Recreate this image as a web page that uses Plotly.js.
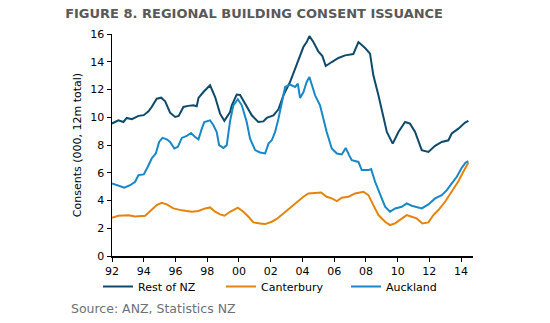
<!DOCTYPE html>
<html>
<head>
<meta charset="utf-8">
<script src="https://cdn.plot.ly/plotly-3.0.1.min.js"></script>
<style>html,body{margin:0;padding:0;background:#fff;}#chart{width:550px;height:323px;}</style>
</head>
<body>
<div id="chart"></div>
<script>
// Rest of NZ
const restYears = [1992.0,1992.4,1992.72,1992.93,1993.25,1993.67,1994.0,1994.3,1994.5,1994.82,1995.1,1995.35,1995.66,1995.98,1996.2,1996.5,1996.8,1997.13,1997.34,1997.45,1997.76,1998.18,1998.5,1998.81,1999.08,1999.44,1999.55,1999.86,2000.07,2000.39,2000.81,2001.22,2001.54,2001.75,2002.17,2002.49,2002.8,2003.22,2003.64,2004.06,2004.27,2004.44,2004.69,2005.0,2005.26,2005.47,2005.85,2006.27,2006.69,2007.0,2007.21,2007.53,2007.95,2008.26,2008.47,2008.79,2009.1,2009.32,2009.69,2010.05,2010.47,2010.78,2011.1,2011.52,2011.94,2012.36,2012.78,2013.2,2013.41,2013.83,2014.25,2014.46];
const restValues = [9.55,9.78,9.66,9.95,9.86,10.1,10.15,10.43,10.74,11.34,11.41,11.15,10.33,10.02,10.1,10.74,10.82,10.86,10.79,11.39,11.82,12.3,11.46,10.26,9.74,10.38,10.86,11.63,11.6,10.98,10.14,9.66,9.7,9.95,10.14,10.57,11.58,12.54,13.74,15.06,15.42,15.85,15.42,14.75,14.41,13.69,13.98,14.27,14.46,14.5,14.56,15.42,14.99,14.58,13.02,11.58,10.14,8.94,8.1,8.94,9.66,9.54,8.94,7.63,7.5,7.94,8.22,8.34,8.83,9.18,9.62,9.74];

// Canterbury
const cantYears = [1992.0,1992.4,1993.04,1993.46,1994.09,1994.4,1994.82,1995.14,1995.45,1995.87,1996.4,1997.03,1997.45,1997.87,1998.18,1998.5,1998.81,1999.08,1999.44,1999.93,2000.28,2000.6,2000.91,2001.33,2001.65,2002.07,2002.38,2002.8,2003.22,2003.64,2004.06,2004.38,2004.8,2005.18,2005.53,2005.85,2006.17,2006.48,2006.9,2007.32,2007.84,2008.16,2008.47,2008.79,2009.21,2009.52,2009.84,2010.26,2010.57,2010.89,2011.2,2011.56,2011.94,2012.25,2012.57,2012.99,2013.41,2013.83,2014.14,2014.46];
const cantValues = [2.76,2.9,2.93,2.85,2.9,3.24,3.67,3.84,3.72,3.43,3.29,3.19,3.24,3.43,3.5,3.19,3.0,2.9,3.19,3.48,3.19,2.83,2.42,2.35,2.3,2.47,2.67,3.07,3.48,3.91,4.27,4.51,4.55,4.58,4.27,4.15,3.96,4.2,4.27,4.51,4.63,4.39,3.67,2.95,2.47,2.23,2.35,2.71,2.95,2.83,2.71,2.35,2.42,2.95,3.31,3.91,4.63,5.39,6.07,6.74];

// Auckland
const akYears = [1992.0,1992.4,1992.78,1993.14,1993.46,1993.67,1994.0,1994.26,1994.5,1994.76,1994.97,1995.18,1995.45,1995.66,1995.93,1996.15,1996.4,1996.71,1996.98,1997.24,1997.45,1997.66,1997.82,1998.18,1998.39,1998.6,1998.75,1999.02,1999.23,1999.44,1999.65,1999.93,2000.18,2000.49,2000.7,2001.02,2001.33,2001.65,2001.86,2002.07,2002.28,2002.49,2002.7,2002.91,2003.22,2003.54,2003.71,2003.85,2004.06,2004.27,2004.44,2004.63,2004.8,2005.11,2005.32,2005.53,2005.85,2006.17,2006.48,2006.73,2006.94,2007.11,2007.53,2007.74,2008.16,2008.33,2008.58,2008.9,2009.21,2009.52,2009.84,2010.26,2010.57,2010.89,2011.2,2011.52,2011.94,2012.36,2012.78,2013.1,2013.41,2013.73,2014.04,2014.29,2014.46];
const akValues = [5.23,5.06,4.92,5.1,5.35,5.83,5.88,6.43,7.03,7.39,8.22,8.51,8.41,8.22,7.75,7.87,8.51,8.65,8.87,8.58,8.41,9.18,9.66,9.78,9.42,8.94,7.99,7.79,7.99,9.72,10.86,11.3,10.86,9.66,8.46,7.63,7.46,7.39,8.1,8.34,8.94,9.9,11.1,12.18,12.35,12.18,12.42,11.39,11.8,12.54,12.9,12.18,11.58,10.86,9.9,8.94,7.75,7.39,7.32,7.79,7.27,6.9,6.78,6.19,6.19,6.26,5.35,4.39,3.55,3.19,3.43,3.55,3.79,3.62,3.55,3.43,3.72,4.15,4.39,4.75,5.23,5.71,6.35,6.74,6.83];

const tickYears = [1992,1994,1996,1998,2000,2002,2004,2006,2008,2010,2012,2014];
const tickLabels = ['92','94','96','98','00','02','04','06','08','10','12','14'];
const seriesNames = ['Rest of NZ','Canterbury','Auckland'];

const FONT = 'DejaVu Sans, Verdana, sans-serif';

const traces = [
  {x: restYears, y: restValues, name: seriesNames[0], legend: 'legend', type: 'scatter', mode: 'lines', line: {color: '#0d4a6b', width: 2}},
  {x: cantYears, y: cantValues, name: seriesNames[1], legend: 'legend2', type: 'scatter', mode: 'lines', line: {color: '#e6830f', width: 2}},
  {x: akYears, y: akValues, name: seriesNames[2], legend: 'legend3', type: 'scatter', mode: 'lines', line: {color: '#1787c8', width: 2}}
];

function legendAt(xPx) {
  return {orientation: 'h', xref: 'container', yref: 'container', x: xPx / 550, xanchor: 'left', y: 0.113, yanchor: 'middle', font: {size: 11}, itemwidth: 30, bgcolor: 'rgba(0,0,0,0)'};
}

const layout = {
  width: 550, height: 323,
  margin: {l: 112, r: 77, t: 34, b: 67, autoexpand: false},
  paper_bgcolor: '#fff', plot_bgcolor: '#fff',
  font: {family: FONT, size: 11, color: '#000'},
  title: {text: '<b>FIGURE 8. REGIONAL BUILDING CONSENT ISSUANCE</b>', font: {family: FONT, size: 13, color: '#595959'}, x: 0.462, xanchor: 'center', xref: 'container', y: 0.958, yanchor: 'middle', yref: 'container'},
  xaxis: {range: [1992, 2014.75], tickvals: tickYears, ticktext: tickLabels, showgrid: false, zeroline: false, showline: true, linecolor: '#000', linewidth: 1.5, ticks: 'outside', ticklen: 4, tickcolor: '#000', tickfont: {size: 11}},
  yaxis: {range: [0, 16], dtick: 2, showgrid: false, zeroline: false, showline: true, linecolor: '#000', linewidth: 1.5, ticks: 'outside', ticklen: 4, tickcolor: '#000', tickfont: {size: 11}, title: {text: 'Consents (000, 12m total)', font: {size: 11}, standoff: 6}},
  showlegend: true,
  legend: legendAt(98),
  legend2: legendAt(221),
  legend3: legendAt(346),
  annotations: [
    {text: 'Source: ANZ, Statistics NZ', xref: 'paper', yref: 'paper', x: -0.12, xanchor: 'left', y: -0.235, yanchor: 'middle', showarrow: false, font: {family: FONT, size: 12.5, color: '#6b717a'}}
  ]
};

Plotly.newPlot('chart', traces, layout, {staticPlot: true, displayModeBar: false});
</script>
</body>
</html>
